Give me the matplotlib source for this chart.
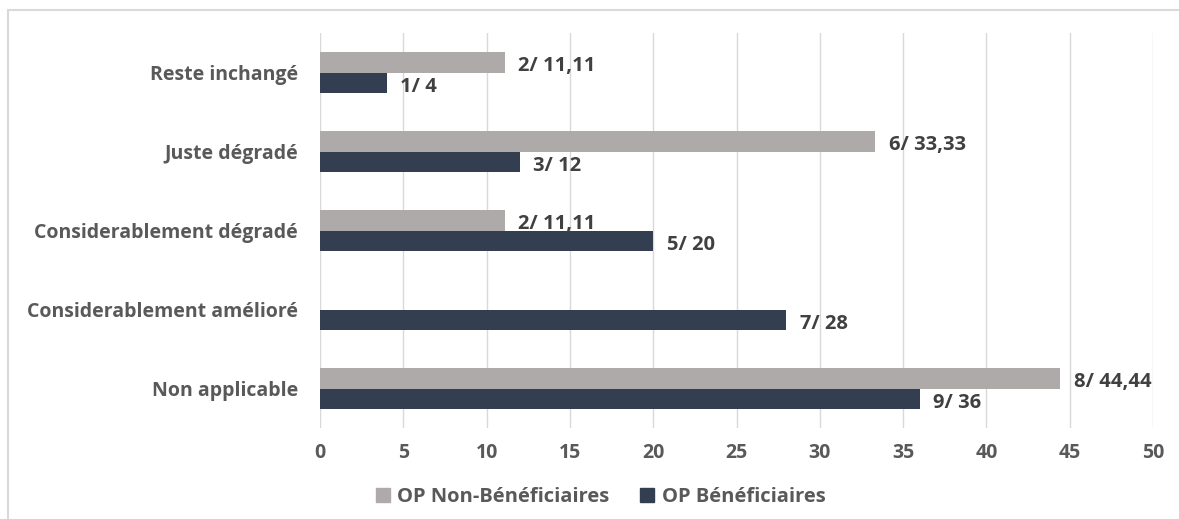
import matplotlib.pyplot as plt
import numpy as np
from matplotlib.lines import Line2D

plt.rcParams['font.family'] = ['Open Sans', 'DejaVu Sans']

categories = ["Reste inchangé", "Juste dégradé", "Considerablement dégradé",
              "Considerablement amélioré", "Non applicable"]
non_benef = [11.11, 33.33, 11.11, None, 44.44]
non_benef_counts = [2, 6, 2, None, 8]
benef = [4, 12, 20, 28, 36]
benef_counts = [1, 3, 5, 7, 9]
series_names = ["OP Non-Bénéficiaires", "OP Bénéficiaires"]
x_ticks = [0, 5, 10, 15, 20, 25, 30, 35, 40, 45, 50]

grey = "#AEAAAA"
navy = "#333F50"
text_col = "#595959"
label_col = "#404040"
FS = 14

fig = plt.figure(figsize=(11.79, 5.19), dpi=100)
W, H = 1179, 519
ax = fig.add_axes([320 / W, 1 - 428 / H, (1153 - 320) / W, (428 - 33) / H])

y = np.arange(len(categories))
h = 0.255

def fmt(v):
    s = f"{v:.2f}".replace(".", ",")
    if s.endswith(",00"):
        s = s[:-3]
    return s

for i, (v, c) in enumerate(zip(non_benef, non_benef_counts)):
    if v is None:
        continue
    ax.barh(y[i] - h / 2, v, height=h, color=grey, zorder=3)
    ax.text(v + 0.8, y[i] - h / 2 + 0.04, f"{c}/ {fmt(v)}", va="center", ha="left",
            fontsize=14.5, fontweight="bold", color=label_col)

for i, (v, c) in enumerate(zip(benef, benef_counts)):
    ax.barh(y[i] + h / 2, v, height=h, color=navy, zorder=3)
    ax.text(v + 0.8, y[i] + h / 2 + 0.05, f"{c}/ {fmt(v)}", va="center", ha="left",
            fontsize=14.5, fontweight="bold", color=label_col)

ax.set_xlim(0, 50)
ax.set_ylim(len(categories) - 0.5, -0.5)
ax.set_xticks(x_ticks)
ax.set_yticks(y)
ax.set_yticklabels(categories)
ax.grid(axis="x", color="#D9D9D9", linewidth=1, zorder=0)
for s in ax.spines.values():
    s.set_visible(False)
ax.tick_params(axis="both", length=0, labelsize=FS, labelcolor=text_col)
ax.tick_params(axis="x", pad=11)
ax.tick_params(axis="y", pad=16)
for lab in ax.get_xticklabels() + ax.get_yticklabels():
    lab.set_fontweight("bold")

handles = [Line2D([0], [0], marker="s", color="none", markerfacecolor=grey,
                  markeredgecolor=grey, markersize=10),
           Line2D([0], [0], marker="s", color="none", markerfacecolor=navy,
                  markeredgecolor=navy, markersize=10)]
fig.legend(handles, series_names, loc="center", bbox_to_anchor=(600 / W, 1 - 497 / H),
           ncol=2, frameon=False, handlelength=0.8, handletextpad=0.3,
           columnspacing=1.5, prop={"size": 14.5, "weight": "bold"},
           labelcolor=text_col)

# outer frame lines (left and top)
fig.add_artist(Line2D([8 / W, 8 / W], [0, 1 - 10 / H], transform=fig.transFigure,
                      color="#D9D9D9", linewidth=1.5))
fig.add_artist(Line2D([8 / W, 1], [1 - 10 / H, 1 - 10 / H], transform=fig.transFigure,
                      color="#D9D9D9", linewidth=1.5))

fig.savefig("out.png", dpi=100)
